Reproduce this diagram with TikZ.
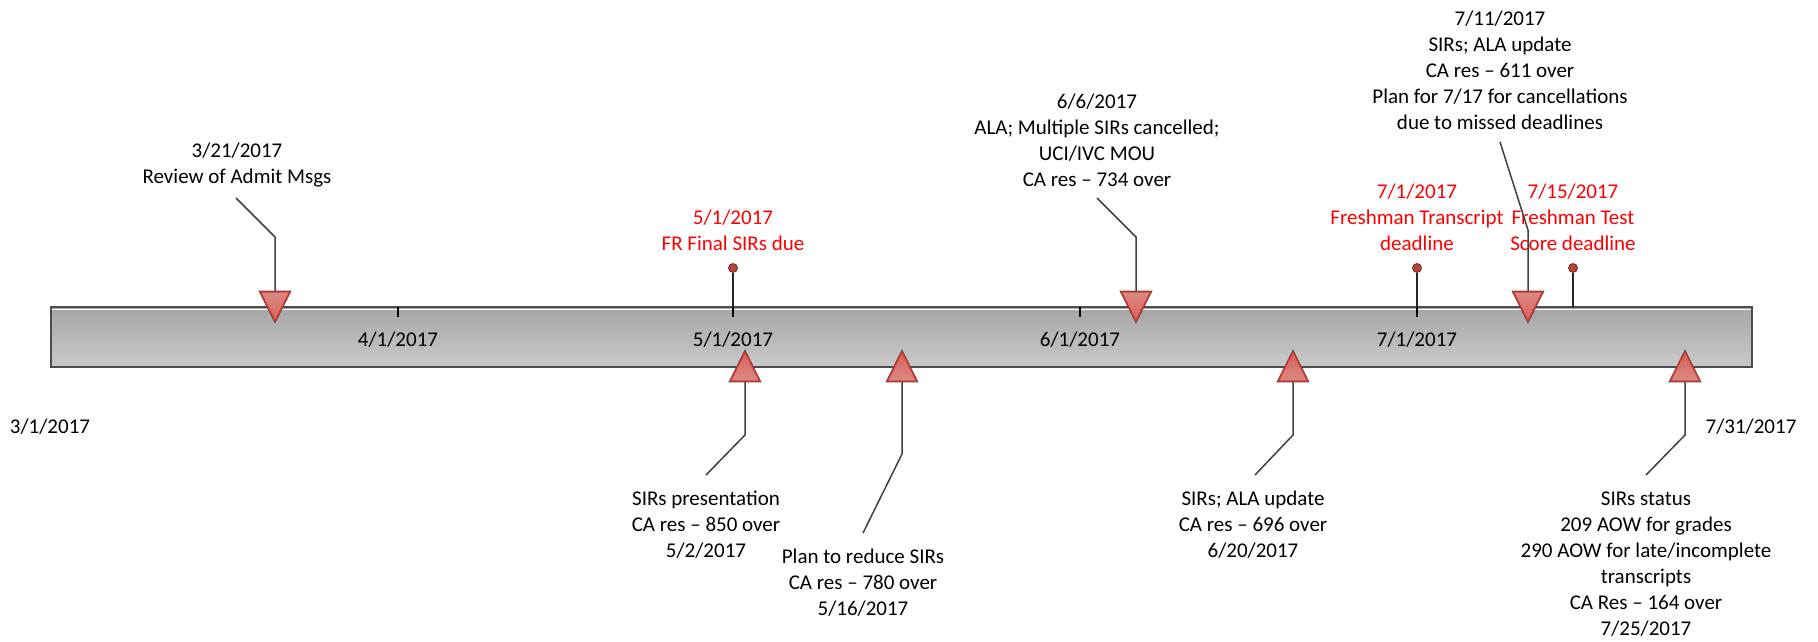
\documentclass[tikz,border=0pt]{standalone}
\usepackage{fontspec}
\setmainfont{Carlito}
\definecolor{barTop}{HTML}{A6A6A6}
\definecolor{barBot}{HTML}{C9C9C9}
\definecolor{barEdge}{HTML}{4D4D4D}
\definecolor{triLight}{HTML}{DA8A84}
\definecolor{triDark}{HTML}{D6625B}
\definecolor{triEdge}{HTML}{E0332A}
\definecolor{triOuter}{HTML}{505050}
\definecolor{leadCol}{HTML}{404040}
\definecolor{dotFill}{HTML}{B5443C}
\definecolor{dotEdge}{HTML}{7A2A24}
\begin{document}
\begin{tikzpicture}[x=1pt,y=-1pt,
  evtext/.style={align=center,inner sep=0pt,font=\fontsize{21}{26}\selectfont},
  redtext/.style={evtext,text=red},
  barlabel/.style={inner sep=0pt,font=\fontsize{21}{26}\selectfont},
  leader/.style={draw=leadCol,line width=1.5pt},
  tickmark/.style={draw=black,line width=1.5pt},
  stem/.style={draw=black!85,line width=1.5pt},
  dotmark/.style={circle,inner sep=0pt,minimum size=9pt,fill=dotFill,draw=dotEdge,line width=0.8pt},
  triouter/.style={draw=triOuter,line width=2.6pt,line join=miter},
  downtri/.style={top color=triLight,bottom color=triDark,draw=triEdge,line width=1.2pt,line join=miter},
  uptri/.style={top color=triDark,bottom color=triLight,draw=triEdge,line width=1.2pt,line join=miter}
]
\useasboundingbox (0,0) rectangle (1818,642);

% timeline bar
\shade[top color=barTop,bottom color=barBot,draw=barEdge,line width=1.5pt] (51,307) rectangle (1752,367);
\draw[white,line width=1pt] (52,309) -- (1751,309);

% month ticks
\coordinate (t41) at (398,307);
\coordinate (t51) at (733,307);
\coordinate (t61) at (1080,307);
\coordinate (t71) at (1417,307);
\coordinate (t715) at (1573,307);
\foreach \t in {t41,t51,t61,t71} \draw[tickmark] (\t) -- ++(0,10);

% axis labels
\node[barlabel] (l41) at (398,340) {4/1/2017};
\node[barlabel] (l51) at (733,340) {5/1/2017};
\node[barlabel] (l61) at (1080,340) {6/1/2017};
\node[barlabel] (l71) at (1417,340) {7/1/2017};
\node[barlabel] (lstart) at (50,427) {3/1/2017};
\node[barlabel] (lend) at (1751,427) {7/31/2017};

% red deadline pins
\node[dotmark] (p51) at (733,268) {};
\node[dotmark] (p71) at (1417,268) {};
\node[dotmark] (p715) at (1573,268) {};
\draw[stem] (p51) -- (t51);
\draw[stem] (p71) -- (t71);
\draw[stem] (p715) -- (t715);
\node[redtext] (r51) at (733,230) {5/1/2017\\FR Final SIRs due};
\node[redtext] (r71) at (1417,217) {7/1/2017\\Freshman Transcript\\deadline};
\node[redtext] (r715) at (1573,217) {7/15/2017\\Freshman Test\\Score deadline};

% events above (down triangles)
\node[evtext] (e321) at (237,165) {3/21/2017\\Review of Admit Msgs};
\node[evtext] (e66) at (1097,140) {6/6/2017\\ALA; Multiple SIRs cancelled;\\UCI/IVC MOU\\CA res -- 734 over};
\node[evtext] (e711) at (1500,70) {7/11/2017\\SIRs; ALA update\\CA res -- 611 over\\Plan for 7/17 for cancellations\\due to missed deadlines};

\coordinate (a321) at (275,292);
\coordinate (b321) at (275,237);
\coordinate (c321) at (236,198);
\coordinate (a66) at (1136,292);
\coordinate (b66) at (1136,237);
\coordinate (c66) at (1097,198);
\coordinate (a711) at (1528,292);
\coordinate (b711) at (1528,230);
\coordinate (c711) at (1500,142);
\draw[leader] (c321) -- (b321) -- (a321);
\draw[leader] (c66) -- (b66) -- (a66);
\draw[leader] (c711) -- (b711) -- (a711);
\foreach \a in {a321,a66,a711}{
  \path[triouter] (\a) ++(-14.5,0) -- ++(29,0) -- ++(-14.5,29) -- cycle;
  \path[downtri] (\a) ++(-14.5,0) -- ++(29,0) -- ++(-14.5,29) -- cycle;}

% events below (up triangles)
\node[evtext] (e52) at (706,525) {SIRs presentation\\CA res -- 850 over\\5/2/2017};
\node[evtext] (e516) at (863,583) {Plan to reduce SIRs\\CA res -- 780 over\\5/16/2017};
\node[evtext] (e620) at (1253,525) {SIRs; ALA update\\CA res -- 696 over\\6/20/2017};
\node[evtext] (e725) at (1646,564) {SIRs status\\209 AOW for grades\\290 AOW for late/incomplete\\transcripts\\CA Res -- 164 over\\7/25/2017};

\coordinate (a52) at (745,381);
\coordinate (b52) at (745,435);
\coordinate (c52) at (706,475);
\coordinate (a516) at (902,381);
\coordinate (b516) at (902,454);
\coordinate (c516) at (863,533);
\coordinate (a620) at (1293,381);
\coordinate (b620) at (1293,435);
\coordinate (c620) at (1255,475);
\coordinate (a725) at (1685,381);
\coordinate (b725) at (1685,435);
\coordinate (c725) at (1646,475);
\draw[leader] (a52) -- (b52) -- (c52);
\draw[leader] (a516) -- (b516) -- (c516);
\draw[leader] (a620) -- (b620) -- (c620);
\draw[leader] (a725) -- (b725) -- (c725);
\foreach \a in {a52,a516,a620,a725}{
  \path[triouter] (\a) ++(-14.5,0) -- ++(29,0) -- ++(-14.5,-29) -- cycle;
  \path[uptri] (\a) ++(-14.5,0) -- ++(29,0) -- ++(-14.5,-29) -- cycle;}
\end{tikzpicture}
\end{document}
